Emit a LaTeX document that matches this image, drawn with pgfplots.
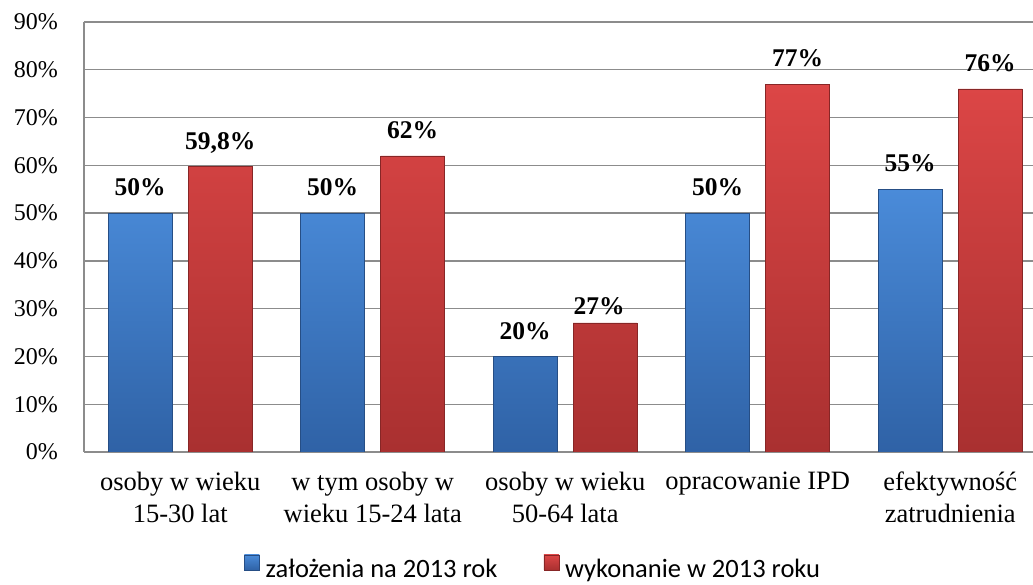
\documentclass[border=0pt]{standalone}
\usepackage{fontspec}
\setmainfont{Liberation Serif}
\newfontfamily\calibri{Carlito}
\usepackage{pgfplots}
\pgfplotsset{compat=1.18}
\usepackage{pgfplotstable}
\definecolor{gridgray}{HTML}{8C8C8C}
\definecolor{blueT}{HTML}{4A8BD9}
\definecolor{blueB}{HTML}{2F62A6}
\definecolor{redT}{HTML}{DC4646}
\definecolor{redB}{HTML}{A93030}

\pgfplotstableread{
x y label dx dy
0 50 50 0 17
1 50 50 0 17
2 20 20 0 17
3 50 50 0 17
4 55 55 0 17
}\plan
\pgfplotstableread{
x y label dx dy
0 59.8 59,8 0 17
1 62 62 0 17
2 27 27 -6 8
3 77 77 0 17
4 76 76 0 17
}\done

\begin{document}
\begin{tikzpicture}
\begin{axis}[name=ax, scale only axis, width=949pt, height=430pt,
  xmin=-0.5, xmax=4.43, ymin=0, ymax=90,
  ybar=16pt, bar width=64pt,
  axis x line*=bottom, axis y line*=left,
  axis line style={gridgray, line width=1.3pt, -},
  ymajorgrids, grid style={gridgray, line width=1.3pt},
  major tick length=0pt,
  xtick={0,1,2,3,4},
  xticklabels={{osoby w wieku\\15-30 lat},{w tym osoby w\\wieku 15-24 lata},{osoby w wieku\\50-64 lata},{opracowanie IPD},{efektywność\\zatrudnienia}},
  xticklabel style={align=center, font=\fontsize{26.5}{32}\selectfont, inner sep=0pt, yshift=-20pt},
  ytick={0,10,...,90},
  yticklabel={\pgfmathprintnumber{\tick}\%},
  yticklabel style={font=\fontsize{24}{29}\selectfont, inner sep=0pt, xshift=-26pt},
  /pgf/number format/assume math mode=true,
  point meta=explicit symbolic,
  nodes near coords={\pgfplotspointmeta\%},
  visualization depends on={\thisrow{dx} \as \dx},
  visualization depends on={\thisrow{dy} \as \dy},
  every node near coord/.append style={font=\fontsize{25.5}{30}\selectfont\bfseries, text=black, inner sep=0pt, text depth=0pt, anchor=south, xshift=\dx pt, yshift=\dy pt},
  legend style={at={(0.1686,-0.267)}, anchor=west, draw=none, legend columns=2, font=\calibri\fontsize{26.5}{32}\selectfont,
    nodes={inner sep=0pt},
    /tikz/every odd column/.append style={column sep=6pt},
    /tikz/every even column/.append style={column sep=46pt}, inner sep=0pt},
  legend image code/.code={\fill[#1] (0pt,-1pt) rectangle (15pt,14pt);},
]
\addplot[top color=blueT, bottom color=blueB, draw=blueB!80!black, line width=0.5pt] table[x=x, y=y, meta=label] {\plan};
\addplot[top color=redT, bottom color=redB, draw=redB!80!black, line width=0.5pt] table[x=x, y=y, meta=label] {\done};
\legend{założenia na 2013 rok, wykonanie w 2013 roku}
\end{axis}
\pgfresetboundingbox
\path ([xshift=-84pt,yshift=-133pt]ax.south west) rectangle ([yshift=22pt]ax.north east);
\end{tikzpicture}
\end{document}
